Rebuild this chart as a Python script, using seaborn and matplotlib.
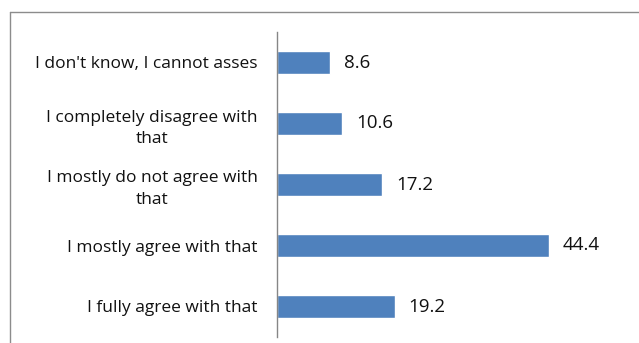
import matplotlib
matplotlib.use("Agg")
import matplotlib.pyplot as plt
import matplotlib.lines as mlines
import seaborn as sns
import pandas as pd

categories = [
    "I don't know, I cannot asses",
    "I completely disagree with\nthat",
    "I mostly do not agree with\nthat",
    "I mostly agree with that",
    "I fully agree with that",
]
values = [8.6, 10.6, 17.2, 44.4, 19.2]

sns.set_theme(style="white")
plt.rcParams["font.family"] = ["Open Sans", "DejaVu Sans"]

df = pd.DataFrame({"answer": categories, "share": values})

W, H = 639, 343
fig = plt.figure(figsize=(W / 100, H / 100), dpi=100)
ax = fig.add_axes([277 / W, 1 - 337 / H, 306.5 / W, 305 / H])

sns.barplot(data=df, y="answer", x="share", orient="h", color="#4F81BD",
            saturation=1, width=0.39, ax=ax)

ax.set_xlim(0, 50)
ax.set_xlabel("")
ax.set_ylabel("")
ax.set_xticks([])
for side in ["top", "right", "bottom"]:
    ax.spines[side].set_visible(False)
ax.spines["left"].set_color("#868686")
ax.spines["left"].set_linewidth(1.0)
ax.tick_params(axis="y", length=0, pad=14, labelsize=12.5, labelcolor="#111111")
for lbl in ax.get_yticklabels():
    lbl.set_multialignment("center")
    lbl.set_linespacing(1.45)

for cont in ax.containers:
    ax.bar_label(cont, labels=[f"{v:.1f}" for v in values], padding=10,
                 fontsize=13.5, color="#111111")

# chart-area frame
frame_kw = dict(color="#8C8C8C", linewidth=1.0, transform=fig.transFigure)
fig.add_artist(mlines.Line2D([9.5 / W, 9.5 / W], [0, 1 - 11.5 / H], **frame_kw))
fig.add_artist(mlines.Line2D([9.5 / W, 1], [1 - 11.5 / H, 1 - 11.5 / H], **frame_kw))

fig.savefig("out.png", dpi=100, facecolor="white")
